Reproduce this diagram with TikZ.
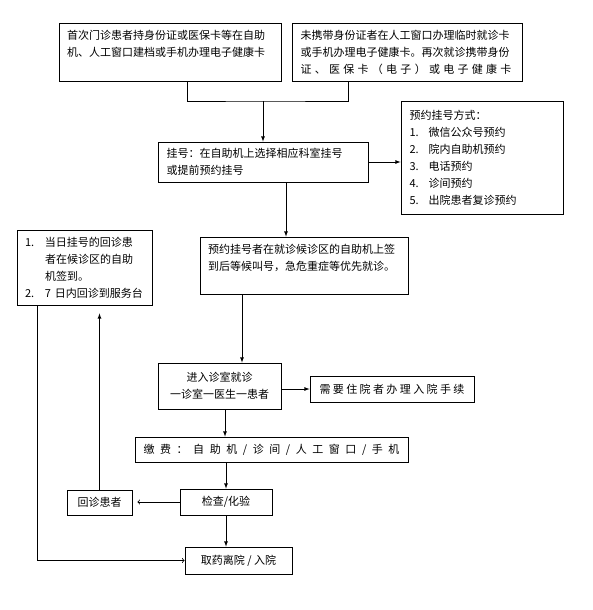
\documentclass[tikz,border=0pt]{standalone}
\usepackage{fontspec}
\newfontfamily\cjk{Noto Sans CJK SC}
\usetikzlibrary{arrows,positioning,calc}
\tikzset{
    box/.style={
        rectangle,
        draw=black,
        line width=0.8pt,
        inner xsep=8pt,
        inner ysep=0pt,
        font=\cjk\fontsize{11}{17}\selectfont,
    },
    flow/.style={
        line width=0.8pt,
        -latex,
    },
}
\begin{document}
\begin{tikzpicture}[
    x=1pt,
    y=-1pt,
    semithick]

\useasboundingbox (0,0) rectangle (592,610);

% first visit
\node
[
    box,
    minimum width=222pt,
    minimum height=58pt,
    text width=206pt,
    align=left
] (first) at (170,52)
{
    首次门诊患者持身份证或医保卡等在自助\\
    机、人工窗口建档或手机办理电子健康卡\\
    \mbox{}
};
% no id card
\node
[
    box,
    minimum width=230pt,
    minimum height=58pt,
    text width=213pt,
    align=left
] (second) at (407,52)
{
    未携带身份证者在人工窗口办理临时就诊卡\\
    或手机办理电子健康卡。再次就诊携带身份\\
    \makebox[211pt]{证\hfill 、\hfill 医\hfill 保\hfill 卡\hfill （\hfill 电\hfill 子\hfill ）\hfill 或\hfill 电\hfill 子\hfill 健\hfill 康\hfill 卡}
};
% register
\node
[
    box,
    minimum width=210pt,
    minimum height=40pt,
    text width=193pt,
    align=left
] (reg) at (263,162)
{
    挂号：在自助机上选择相应科室挂号\\
    或提前预约挂号
};
% booking ways
\node
[
    box,
    minimum width=162pt,
    minimum height=113pt,
    text width=145pt,
    align=left
] (ways) at (482,157.5)
{
    预约挂号方式：\\
    \makebox[19pt][l]{1.}微信公众号预约\\
    \makebox[19pt][l]{2.}院内自助机预约\\
    \makebox[19pt][l]{3.}电话预约\\
    \makebox[19pt][l]{4.}诊间预约\\
    \makebox[19pt][l]{5.}出院患者复诊预约
};
% waiting area
\node
[
    box,
    minimum width=208pt,
    minimum height=57pt,
    text width=192pt,
    align=left
] (wait) at (304,265.5)
{
    预约挂号者在就诊候诊区的自助机上签\\
    到后等候叫号，急危重症等优先就诊。\\
    \mbox{}
};
% return visit rules
\node
[
    box,
    minimum width=135pt,
    minimum height=75pt,
    text width=119pt,
    align=left
] (rules) at (84.5,267.5)
{
    \makebox[20pt][l]{1.}当日挂号的回诊患\\
    \hspace*{20pt}者在候诊区的自助\\
    \hspace*{20pt}机签到。\\
    \makebox[20pt][l]{2.}7 日内回诊到服务台
};
% consulting room
\node
[
    box,
    minimum width=123pt,
    minimum height=46pt,
    align=center
] (room) at (219.5,386)
{
    进入诊室就诊\\
    一诊室一医生一患者
};
% admission
\node
[
    box,
    minimum width=164pt,
    minimum height=26pt
] (ward) at (392,389)
{
    \makebox[145pt]{需\hfill 要\hfill 住\hfill 院\hfill 者\hfill 办\hfill 理\hfill 入\hfill 院\hfill 手\hfill 续}
};
% payment
\node
[
    box,
    minimum width=273pt,
    minimum height=25pt
] (pay) at (271.5,449.5)
{
    \makebox[256pt]{缴\hfill 费\hfill ：\hfill 自\hfill 助\hfill 机\hfill /\hfill 诊\hfill 间\hfill /\hfill 人\hfill 工\hfill 窗\hfill 口\hfill /\hfill 手\hfill 机}
};
% tests
\node
[
    box,
    minimum width=92pt,
    minimum height=26pt
] (check) at (226,502)
{
    检查/化验
};
% return patient
\node
[
    box,
    minimum width=65pt,
    minimum height=25pt
] (back) at (99.5,502.5)
{
    回诊患者
};
% leave
\node
[
    box,
    minimum width=107pt,
    minimum height=27pt
] (leave) at (238.5,560.5)
{
    取药离院 / 入院
};

% Transitions
\coordinate (join) at (263,101);
\draw [line width=0.8pt]
    ([xshift=17pt]first.south) |- (join) -| ([xshift=-59pt]second.south);
\path [flow]
    (join) edge (join |- reg.north)
    (reg.east) edge (reg.east -| ways.west)
    ([xshift=23pt]reg.south) edge ([xshift=23pt]reg.south |- wait.north)
    ([xshift=-62pt]wait.south) edge ([xshift=-62pt]wait.south |- room.north)
    (room.east |- ward.west) edge (ward.west)
    ([xshift=5.5pt]room.south) edge ([xshift=5.5pt]room.south |- pay.north)
    (check.north |- pay.south) edge (check.north)
    (check.south) edge (check.south |- leave.north)
    (check.west) edge [-to] ([xshift=5pt]back.east |- check.west)
    (back.north) edge ([yshift=-8pt]back.north |- rules.south);
\draw [line width=0.8pt, -to]
    ([xshift=-47.5pt]rules.south) |- (leave.west);

\end{tikzpicture}
\end{document}
